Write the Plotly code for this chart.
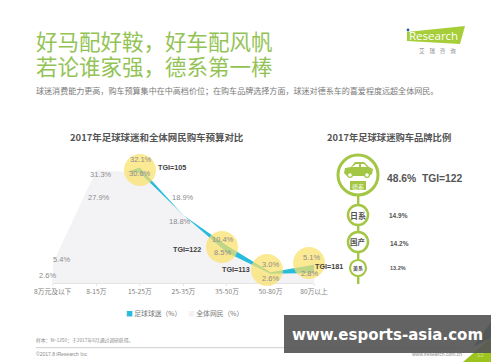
import plotly.graph_objects as go

W, H = 500, 362
CJK = "Noto Sans CJK SC"

# ---- data ----
categories = ["8万元及以下", "8-15万", "15-25万", "25-35万", "35-50万", "50-80万", "80万以上"]
fans = [2.6, 27.9, 32.1, 18.8, 10.4, 3.0, 5.1]
netizens = [5.4, 31.3, 30.6, 18.9, 8.5, 2.6, 2.8]
tgi_labels = ["TGI=105", "TGI=122", "TGI=113", "TGI=181"]
brands = ["德系", "日系", "国产", "美系"]
brand_share = ["48.6%", "14.9%", "14.2%", "13.2%"]

# ---- label offsets relative to the data points (pixels, x right / y up) ----
fans_dx = [-5, 3, 1, -3, -4, 0, -3]
fans_dy = [-2, -15, 8, -6, 6, 8, 7]
net_dx = [9, 5, 0, 0, -4, 0, -5]
net_dy = [4, -4, -1, 17, 0, -5, -1]

GREEN = "#93c356"
RING = "#a3c644"
CYAN = "#27bcdc"
GREY_FILL = "#f3f3f6"
LABEL = "#8c8c8c"
DARK = "#4a4a4a"


def px(x):
    return x / W


def py(y):
    return 1 - y / H


def note(x, y, text, size, color=DARK, anchor="center", family=CJK, bold=False):
    t = f"<b>{text}</b>" if bold else text
    return dict(x=px(x), y=py(y), xref="paper", yref="paper", text=t, showarrow=False,
                xanchor=anchor, yanchor="middle", align="left",
                font=dict(size=size, color=color, family=family),
                borderpad=0, borderwidth=0)


def circle(cx, cy, r, fill, line=None, lw=0, opacity=1.0):
    return dict(type="circle", xref="paper", yref="paper", x0=px(cx - r), x1=px(cx + r),
                y0=py(cy + r), y1=py(cy - r), fillcolor=fill, opacity=opacity,
                line=dict(color=line or fill, width=lw), layer="above")


def poly(points, fill, opacity=1.0):
    d = "M " + " L ".join(f"{px(x):.4f},{py(y):.4f}" for x, y in points) + " Z"
    return dict(type="path", xref="paper", yref="paper", path=d, fillcolor=fill,
                opacity=opacity, line=dict(width=0), layer="above")


def rect(x0, y0, x1, y1, fill, opacity=1.0):
    return dict(type="rect", xref="paper", yref="paper", x0=px(x0), x1=px(x1),
                y0=py(y1), y1=py(y0), fillcolor=fill, opacity=opacity,
                line=dict(width=0), layer="above")


fig = go.Figure()
xs = list(range(len(categories)))
fig.add_trace(go.Scatter(x=xs, y=fans, mode="lines", fill="tozeroy", fillcolor=CYAN,
                         line=dict(width=0, color=CYAN), name="足球球迷（%）",
                         showlegend=False, hoverinfo="skip"))
fig.add_trace(go.Scatter(x=xs, y=netizens, mode="lines", fill="tozeroy", fillcolor=GREY_FILL,
                         line=dict(width=0, color=GREY_FILL), name="全体网民（%）",
                         showlegend=False, hoverinfo="skip"))

ann = []
# main heading
ann.append(note(36, 41, "好马配好鞍，好车配风帆", 21.5, GREEN, "left"))
ann.append(note(36, 66, "若论谁家强，德系第一棒", 21.5, GREEN, "left"))
ann.append(note(36, 90, "球迷消费能力更高，购车预算集中在中高档价位；在购车品牌选择方面，球迷对德系车的喜爱程度远超全体网民。",
                8.05, "#7a7a7a", "left"))
# logo text
ann.append(note(409, 36, "Research", 11.5, "#ffffff", "left", "Open Sans"))
ann.append(note(437, 51, "艾    瑞    咨    询", 5.5, "#8a8a8a"))
# chart headings
ann.append(note(157, 137, "2017年足球球迷和全体网民购车预算对比", 9.45, "#555555", bold=True))
ann.append(note(389, 137, "2017年足球球迷购车品牌比例", 9.3, "#555555", bold=True))

# value labels
for i in xs:
    for vals, dx, dy in ((fans, fans_dx, fans_dy), (netizens, net_dx, net_dy)):
        ann.append(dict(x=i, y=vals[i], xref="x", yref="y", text=f"{vals[i]:.1f}%", showarrow=False,
                        xshift=dx[i], yshift=dy[i], font=dict(size=7.5, color=LABEL, family="Liberation Sans")))

# TGI labels
for (x, y), t in zip([(172, 167), (187, 249), (236, 269), (329, 266)], tgi_labels):
    ann.append(note(x, y, t, 7.2, "#3f3f3f", family="Liberation Sans", bold=True))

# brand panel
ann.append(note(387, 178, f"{brand_share[0]}  TGI=122", 10.3, "#555555", "left", "Liberation Sans", True))
ann.append(note(389, 215, brand_share[1], 6.5, "#555555", "left", "Liberation Sans", True))
ann.append(note(390, 243, brand_share[2], 6.5, "#555555", "left", "Liberation Sans", True))
ann.append(note(390, 268, brand_share[3], 5.5, "#555555", "left", "Liberation Sans", True))
ann.append(note(358, 186, brands[0], 6, "#ffffff"))
ann.append(note(358, 215, brands[1], 8, "#555555", bold=True))
ann.append(note(358, 242, brands[2], 7.5, "#555555", bold=True))
ann.append(note(358, 268, brands[3], 5, "#555555", bold=True))

# legend
ann.append(note(126, 313, f"<span style='color:{CYAN}'>■</span> 足球球迷（%）", 6.8, "#7a7a7a", "left"))
ann.append(note(188, 313, f"<span style='color:{GREY_FILL}'>■</span> 全体网民（%）", 6.8, "#7a7a7a", "left"))

# footer
ann.append(note(36, 340, "样本：N=1250；于2017年6月通过调研获得。", 4.8, "#8a8a8a", "left"))
ann.append(note(36, 354, "©2017.8 iResearch Inc", 5, "#8a8a8a", "left", "Liberation Sans"))
ann.append(note(462, 354, "www.iresearch.com.cn", 5, "#8a8a8a", "right", "Liberation Sans"))
ann.append(note(387, 335, "www.esports-asia.com", 15, "#ffffff", family="DejaVu Sans", bold=True))
ann.append(note(480, 355, "12", 6, "#cfe08a", family="Liberation Sans"))

shapes = []
# yellow highlight discs over the band
for cx, cy in [(140, 170), (222, 247), (267, 270), (309, 263)]:
    shapes.append(circle(cx, cy, 16, "#fbe16a", opacity=0.72))
# logo
shapes.append(poly([(407, 32), (465, 26), (460, 44), (407, 41)], "#a6ce39"))
shapes.append(circle(408, 30, 1.4, "#2b5ea8"))
# brand panel stem + rings
shapes.append(rect(357, 175, 359.4, 284, RING))
shapes.append(circle(358, 175, 20, "#ffffff", RING, 3))
shapes.append(circle(358, 215, 10, "#ffffff", RING, 2.5))
shapes.append(circle(358, 242, 10, "#ffffff", RING, 2.5))
shapes.append(circle(358, 268, 8, "#ffffff", RING, 2.2))
# car glyph
shapes.append(poly([(344, 173), (345, 168), (351, 167), (355, 162), (364, 162), (369, 167),
                    (373, 169), (372, 174), (369, 176), (347, 176)], RING))
shapes.append(poly([(352, 167), (356, 164), (359, 164), (359, 167)], "#ffffff"))
shapes.append(poly([(361, 167), (361, 164), (364, 164), (367, 167)], "#ffffff"))
shapes.append(circle(350, 175, 2.4, "#ffffff", RING, 1.2))
shapes.append(circle(367, 175, 2.4, "#ffffff", RING, 1.2))
shapes.append(rect(350, 181, 366, 190, RING))
# footer rule
shapes.append(rect(36, 347, 462, 348.3, "#d6d6d6"))
# corner decoration
shapes.append(poly([(463, 362), (491, 338), (491, 362)], "#9dc31f"))
shapes.append(poly([(473, 347), (491, 322), (491, 338)], "#2f6f80"))
# watermark band
shapes.append(rect(284, 315, 491, 353, "#565656", 0.92))

fig.update_layout(
    width=W, height=H, margin=dict(l=0, r=0, t=0, b=0, autoexpand=False),
    paper_bgcolor="#ffffff", plot_bgcolor="rgba(0,0,0,0)",
    showlegend=False, shapes=shapes, annotations=ann,
    xaxis=dict(domain=[px(52.7), px(314)], range=[0, 6], tickmode="array", tickvals=xs,
               ticktext=categories, showgrid=False, zeroline=False, showline=True, automargin=False,
               linecolor="#e4e4e4", linewidth=1, ticks="outside", ticklen=2, tickcolor="#e4e4e4",
               tickfont=dict(size=6.7, color="#808080", family=CJK)),
    yaxis=dict(domain=[py(283), py(150)], range=[0, (283 - 150) / 3.6], visible=False, automargin=False),
)

fig.write_html("out.html", config={"displayModeBar": False},
               post_script="document.body.style.margin='0';document.body.style.overflow='hidden';")
